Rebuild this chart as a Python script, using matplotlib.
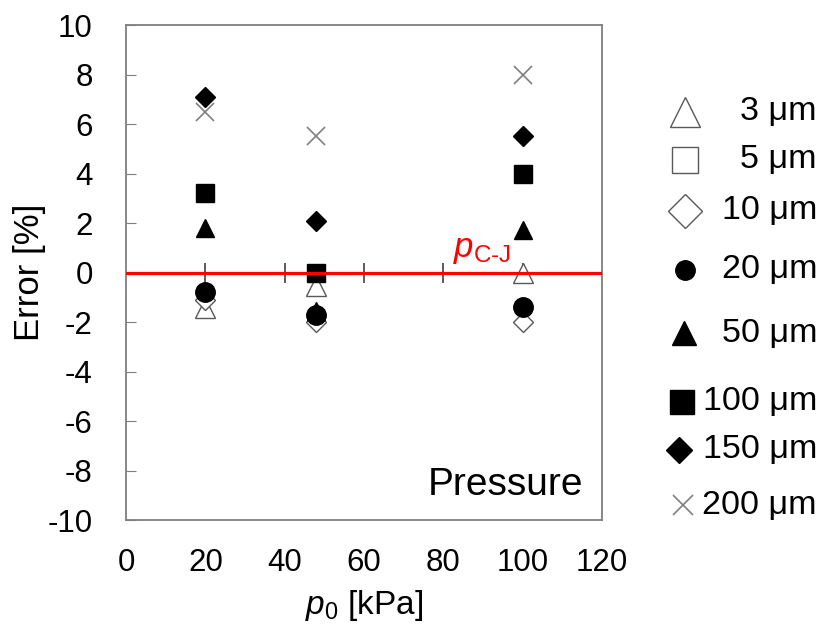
import numpy as np
import matplotlib
matplotlib.use('Agg')
import matplotlib.pyplot as plt
from matplotlib.lines import Line2D

plt.rcParams['font.family'] = ['Liberation Sans', 'DejaVu Sans']
plt.rcParams['mathtext.fontset'] = 'custom'
plt.rcParams['mathtext.rm'] = 'Liberation Sans'
plt.rcParams['mathtext.it'] = 'Liberation Sans:italic'
plt.rcParams['axes.unicode_minus'] = False

# data
p0 = [20, 48, 100]
labels = ['3 μm', '5 μm', '10 μm', '20 μm', '50 μm', '100 μm', '150 μm', '200 μm']
err_3 = [-1.45, -0.55, 0.0]
err_5 = [np.nan, np.nan, np.nan]  # not visible in the figure
err_10 = [-1.1, -2.0, -2.0]
err_20 = [-0.8, -1.7, -1.4]
err_50 = [1.8, -1.55, 1.7]
err_100 = [3.2, 0.0, 4.0]
err_150 = [7.1, 2.1, 5.5]
err_200 = [6.5, 5.5, 8.0]
series = [err_3, err_5, err_10, err_20, err_50, err_100, err_150, err_200]

gray = '#7f7f7f'
styles = [
    dict(marker='^', ms=14, mfc='white', mec='#595959', mew=1.0),
    dict(marker='s', ms=13, mfc='white', mec='#595959', mew=1.0),
    dict(marker='D', ms=10.5, mfc='white', mec='#595959', mew=1.0),
    dict(marker='o', ms=14, mfc='black', mec='black', mew=1.0),
    dict(marker='^', ms=13, mfc='black', mec='black', mew=1.0),
    dict(marker='s', ms=13, mfc='black', mec='black', mew=1.0),
    dict(marker='D', ms=10, mfc='black', mec='black', mew=1.0),
    dict(marker='x', ms=13, mfc='none', mec=gray, mew=1.2),
]
# legend keys are drawn a bit larger for the open shapes
legend_ms = [21, 19, 17, 14, 17, 17, 13, 14]
legend_x = [685, 685, 685, 685, 684, 682, 679, 683]
legend_y = [112, 160, 211, 270, 333, 402, 450, 505]

fig = plt.figure(figsize=(8.24, 6.33), dpi=100)
ax = fig.add_axes([0.1529, 0.1785, 0.5777, 0.782])

for vals, st in zip(series, styles):
    ax.plot(p0, vals, linestyle='none', zorder=3, **st)

# C-J line
ax.plot([0, 120], [0, 0], color='#ff0000', lw=2.3, zorder=4)
ax.text(82.5, 0.25, r'$p_{\text{C-J}}$', color='#ff0000', fontsize=25, ha='left', va='bottom')

ax.set_xlim(0, 120)
ax.set_ylim(-10, 10)
ax.set_xticks(range(0, 121, 20))
ax.set_yticks(range(-10, 11, 2))
for s in ax.spines.values():
    s.set_color(gray)
    s.set_linewidth(1.3)
ax.tick_params(axis='y', direction='in', length=7, color=gray, labelsize=22.5, pad=24)
ax.tick_params(axis='x', length=0, labelsize=22.5, pad=20)

# ticks crossing the axis at y = 0
sec = ax.secondary_xaxis(0.5)
sec.set_xticks(range(20, 101, 20))
sec.tick_params(direction='inout', length=15, color='#404040', width=1.2,
                labeltop=False, labelbottom=False)
sec.spines['top'].set_visible(False)
sec.spines['bottom'].set_visible(False)

ax.set_xlabel(r'$p_{\mathit{0}}$ [kPa]', fontsize=24, labelpad=7)
ax.set_ylabel('Error [%]', fontsize=25, labelpad=1)
ax.text(0.96, 0.07, 'Pressure', transform=ax.transAxes, fontsize=28,
        ha='right', va='center')

# legend drawn at the right side
for lab, st, ms, lx, ly in zip(labels, styles, legend_ms, legend_x, legend_y):
    fy = 1 - ly / 633
    key = dict(st)
    key['ms'] = ms
    fig.add_artist(Line2D([lx / 824], [fy], transform=fig.transFigure,
                          linestyle='none', **key))
    fig.text(817 / 824, fy, lab, fontsize=24.5, ha='right', va='center')

fig.savefig('out.png', dpi=100)
